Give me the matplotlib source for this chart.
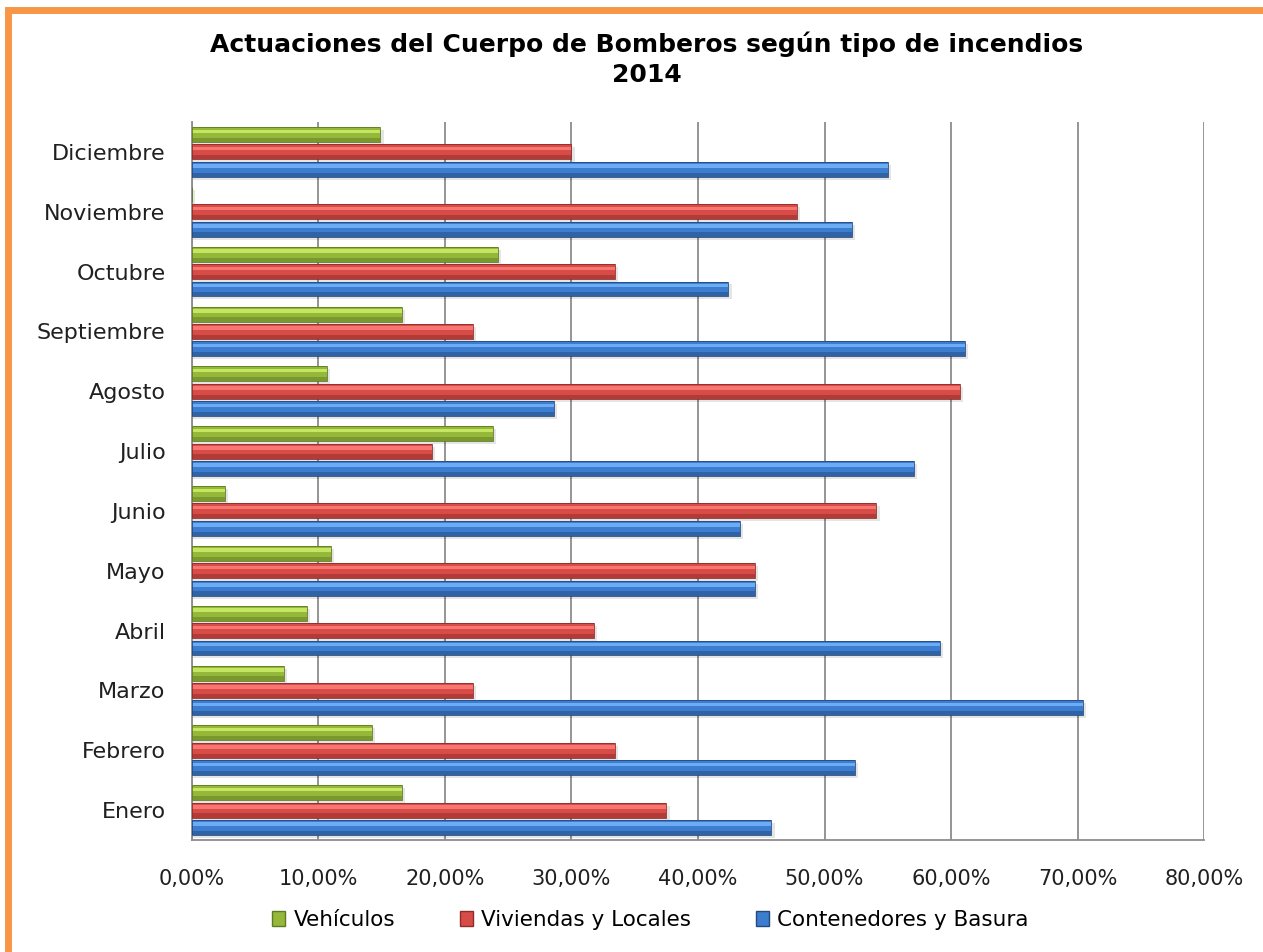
import matplotlib
matplotlib.use('Agg')
import matplotlib.pyplot as plt
from matplotlib.patches import Patch, Rectangle
import numpy as np

# datos (porcentaje)
meses = ['Enero', 'Febrero', 'Marzo', 'Abril', 'Mayo', 'Junio', 'Julio',
         'Agosto', 'Septiembre', 'Octubre', 'Noviembre', 'Diciembre']
vehiculos = [16.6, 14.2, 7.3, 9.1, 11.0, 2.6, 23.8, 10.7, 16.6, 24.2, 0.0, 14.9]
viviendas = [37.5, 33.4, 22.2, 31.8, 44.5, 54.1, 19.0, 60.7, 22.2, 33.4, 47.8, 30.0]
contenedores = [45.8, 52.4, 70.4, 59.1, 44.5, 43.3, 57.1, 28.6, 61.1, 42.4, 52.2, 55.0]

series = ['Vehículos', 'Viviendas y Locales', 'Contenedores y Basura']
xticks = [0, 10, 20, 30, 40, 50, 60, 70, 80]

# color base, brillo, sombra
estilos = [
    ('#95b83a', '#d2f26a', '#5f7a22'),
    ('#d84c48', '#ff817d', '#8e2c2a'),
    ('#3d7dd0', '#78b8ff', '#24497e'),
]

fig = plt.figure(figsize=(12.63, 9.52), dpi=100)
ax = fig.add_axes([0.152, 0.1176, 0.8013, 0.7542])

y = np.arange(len(meses))
offs = [0.29, 0.0, -0.29]
h = 0.25
for vals, off, (base, light, dark) in zip([vehiculos, viviendas, contenedores], offs, estilos):
    v = np.array(vals)
    yy = y + off
    # sombra
    ax.barh(yy - 0.05, v + 0.25, height=h, color='#000000', alpha=0.10, zorder=2, linewidth=0)
    ax.barh(yy, v, height=h, color=base, zorder=3, linewidth=0)
    ax.barh(yy + h * 0.22, v, height=h * 0.24, color=light, alpha=0.8, zorder=4, linewidth=0)
    ax.barh(yy - h * 0.36, v, height=h * 0.28, color=dark, alpha=0.5, zorder=4, linewidth=0)
    ax.barh(yy, v, height=h, fill=False, edgecolor=dark, linewidth=0.6, zorder=5)

ax.set_xlim(0, 80)
ax.set_ylim(-0.5, len(meses) - 0.5)
ax.set_xticks(xticks)
ax.set_xticklabels(['%d,00%%' % t for t in xticks])
ax.set_yticks(y)
ax.set_yticklabels(meses)
ax.tick_params(axis='y', length=0, pad=19, labelsize=16, labelcolor='#202020')
ax.tick_params(axis='x', length=0, pad=21, labelsize=15, labelcolor='#202020')
ax.xaxis.grid(True, color='#8c8c8c', linewidth=1.3, zorder=0)
ax.set_axisbelow(True)
for s in ['top', 'right']:
    ax.spines[s].set_visible(False)
for s in ['left', 'bottom']:
    ax.spines[s].set_color('#8c8c8c')
    ax.spines[s].set_linewidth(1.3)

fig.text(0.512, 0.954, 'Actuaciones del Cuerpo de Bomberos según tipo de incendios',
         ha='center', va='center', fontsize=18, fontweight='bold')
fig.text(0.512, 0.921, '2014', ha='center', va='center', fontsize=18, fontweight='bold')

handles = [Patch(facecolor=b, edgecolor=d) for b, l, d in estilos]
fig.legend(handles, series, loc='center', bbox_to_anchor=(0.515, 0.034), ncol=3,
           frameon=False, fontsize=15.5, handlelength=0.6, handleheight=0.7,
           handletextpad=0.4, columnspacing=3.0)

# marco naranja
fig.patches.append(Rectangle((0.006, -0.02), 1.2, 1.01, transform=fig.transFigure,
                             fill=False, edgecolor='#f79646', linewidth=5, zorder=10))

fig.savefig('out.png', dpi=100)
